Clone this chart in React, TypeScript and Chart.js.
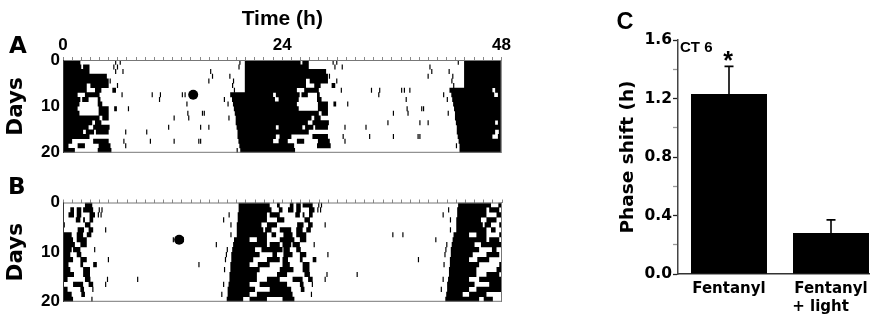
import React, { useEffect, useRef } from "react";
import { Chart, registerables } from "chart.js";
Chart.register(...registerables);
Chart.defaults.color = "#000";

const SANS = "'Liberation Sans', Arial, sans-serif";
const WIDE = "'DejaVu Sans', sans-serif";

// ---------- actogram axes ----------
const hourLabels = [0, 24, 48];
const dayLabels = [0, 10, 20];
const rowsShown = 20;

// ---------- Panel A: activity bouts per day, [start, end] in hours of the day ----------
const boutsA: number[][][] = [
  [[0, 1.9], [19.9, 24]],
  [[0, 2.0], [2.2, 2.9], [19.9, 24]],
  [[0, 2.9], [19.9, 24]],
  [[0, 4.8], [19.9, 24]],
  [[0, 5.0], [19.9, 24]],
  [[0, 2.6], [3.0, 5.0], [19.9, 24]],
  [[0, 2.6], [3.5, 4.2], [5.4, 5.8], [19.9, 24]],
  [[0, 1.6], [2.4, 4.0], [18.3, 23.0], [23.3, 24]],
  [[0, 1.9], [2.1, 2.8], [3.8, 4.1], [18.5, 23.2], [23.6, 24]],
  [[0, 1.8], [3.8, 4.3], [18.6, 24]],
  [[0, 1.6], [3.9, 5.0], [5.6, 5.9], [18.7, 24]],
  [[0, 1.8], [3.9, 5.0], [18.8, 24]],
  [[0, 4.0], [4.3, 5.0], [18.9, 24]],
  [[0, 3.2], [3.5, 4.2], [18.9, 24]],
  [[0, 2.8], [3.3, 5.1], [19.0, 23.3], [23.6, 24]],
  [[0, 2.2], [2.5, 3.4], [3.6, 5.0], [19.1, 24]],
  [[0, 2.9], [19.1, 23.3], [23.7, 24]],
  [[0, 1.0], [3.3, 5.0], [19.2, 23.0], [23.6, 24]],
  [[0, 0.6], [1.6, 2.4], [3.9, 5.2], [19.3, 24]],
  [[0, 1.3], [3.8, 5.3], [19.4, 24]],
  [[0, 1.4], [19.4, 24]],
];
// isolated activity counts [day, hour]
const countsA: number[][] = [
  [0, 5.7], [0, 6.2], [0, 19.3], [1, 5.5], [1, 5.9], [1, 19.2], [2, 5.7], [2, 6.5], [2, 16.1],
  [3, 16.3], [3, 18.2], [4, 5.1], [4, 15.9], [4, 18.6], [5, 5.9], [5, 18.5], [6, 18.7],
  [7, 6.4], [7, 9.7], [7, 10.6], [7, 13.0], [7, 13.3], [7, 13.9], [8, 10.5], [8, 17.6],
  [9, 13.5], [9, 18.0], [10, 7.1], [11, 13.6], [11, 15.2], [11, 15.4], [12, 12.1], [12, 13.7],
  [12, 18.1], [14, 11.5], [14, 15.0], [14, 15.9], [15, 6.8], [15, 9.1], [17, 6.6], [17, 9.5],
  [17, 12.1], [17, 14.8], [17, 15.0], [18, 6.8], [19, 19.0],
];
// fentanyl injection [day, hour]
const pulseA: number[][] = [[7, 14.25]];

// ---------- Panel B ----------
const boutsB: number[][][] = [
  [[2.4, 3.2], [19.2, 22.6], [23.4, 23.7]],
  [[0.8, 1.2], [1.5, 2.0], [2.2, 3.3], [19.2, 22.8], [23.6, 24]],
  [[0.6, 1.2], [1.5, 2.0], [2.9, 3.5], [19.1, 22.3], [22.6, 23.7]],
  [[1.4, 1.9], [2.2, 2.4], [2.9, 3.3], [19.1, 22.3], [23.4, 24]],
  [[0, 0.2], [2.4, 3.0], [19.0, 21.7], [22.3, 23.4]],
  [[1.6, 2.3], [2.8, 3.3], [19.0, 21.9], [22.1, 22.8], [23.7, 24]],
  [[0, 0.95], [1.5, 2.2], [2.6, 3.1], [19.0, 22.3], [22.8, 23.3]],
  [[0.1, 1.1], [1.5, 2.6], [18.7, 20.4], [21.2, 22.3], [23.7, 24]],
  [[0, 1.3], [1.9, 2.6], [18.6, 22.3], [22.6, 23.7]],
  [[0, 0.95], [1.1, 1.9], [18.5, 21.0], [21.7, 24]],
  [[0.1, 0.8], [1.5, 2.0], [18.4, 21.5], [22.9, 23.4]],
  [[0.1, 1.1], [1.9, 2.6], [18.4, 20.8], [22.3, 23.7]],
  [[0, 0.6], [1.9, 2.2], [3.3, 3.7], [18.3, 20.4], [21.3, 22.6]],
  [[0, 0.8], [2.2, 2.95], [18.3, 21.5], [23.7, 24]],
  [[0, 1.2], [2.2, 2.95], [18.2, 21.2], [23.4, 24]],
  [[0, 0.5], [2.4, 3.0], [18.2, 21.2], [22.3, 23.7]],
  [[1.1, 2.2], [2.8, 3.3], [18.1, 20.4], [21.5, 24]],
  [[0, 0.5], [1.9, 2.3], [18.0, 21.0], [22.6, 24]],
  [[0, 0.95], [2.0, 2.4], [18.0, 20.4], [21.2, 24]],
  [[0, 1.1], [17.9, 19.7], [20.4, 22.3]],
  [[0, 1.3], [17.8, 21.5], [22.0, 23.0]],
];
const countsB: number[][] = [
  [1, 3.9], [1, 4.2], [2, 3.8], [2, 4.1], [2, 18.1], [3, 17.5], [4, 18.3], [5, 4.6], [6, 18.3],
  [7, 12.0], [7, 13.1], [8, 16.7], [9, 3.4], [9, 17.9], [10, 17.8], [11, 4.9], [11, 17.7],
  [12, 14.8], [13, 17.6], [15, 4.8], [15, 8.1], [16, 4.6], [16, 17.5], [17, 3.2], [18, 17.3],
  [19, 3.1],
];
const pulseB: number[][] = [[7, 12.7]];

// ---------- Panel C ----------
const groups = ["Fentanyl", "Fentanyl + light"];
const groupLines = [["Fentanyl"], ["Fentanyl", "+ light    "]];
const phaseShift = [1.23, 0.28];
const phaseShiftSem = [0.19, 0.09];
const significant = [true, false];
const shiftLabels = [0, 0.4, 0.8, 1.2, 1.6];
const conditionNote = "CT 6";

// ---------- helpers ----------
type Pt = { x: number; y: number | null };
const COUNT_WIDTH = 0.13;

function doublePlot(bouts: number[][][]): Pt[] {
  const pts: Pt[] = [];
  for (let r = 0; r < rowsShown; r++) {
    const halves: [number, number][] = [[r, 0], [r + 1, 24]];
    for (const [day, shift] of halves) {
      for (const [s, e] of bouts[day] || []) {
        pts.push({ x: s + shift, y: r + 0.5 }, { x: e + shift, y: r + 0.5 }, { x: e + shift, y: null });
      }
    }
  }
  return pts;
}

function doublePlotCounts(counts: number[][]): Pt[] {
  const pts: Pt[] = [];
  for (const [day, h] of counts) {
    const rows: [number, number][] = [[day, 0], [day - 1, 24]];
    for (const [r, shift] of rows) {
      if (r < 0 || r >= rowsShown) continue;
      pts.push({ x: h + shift, y: r + 0.5 }, { x: h + shift + COUNT_WIDTH, y: r + 0.5 }, { x: h + shift, y: null });
    }
  }
  return pts;
}

const framePlugin = {
  id: "frame",
  afterDatasetsDraw(chart: any) {
    const { ctx, chartArea } = chart;
    const { left, top, right, bottom } = chartArea;
    ctx.save();
    ctx.lineWidth = 1;
    ctx.strokeStyle = "#777";
    ctx.beginPath();
    ctx.moveTo(left, top + 0.5);
    ctx.lineTo(right, top + 0.5);
    ctx.moveTo(right - 0.5, top);
    ctx.lineTo(right - 0.5, bottom);
    ctx.moveTo(left, bottom - 0.5);
    ctx.lineTo(right, bottom - 0.5);
    ctx.stroke();
    ctx.strokeStyle = "#333";
    ctx.beginPath();
    ctx.moveTo(left + 0.5, top);
    ctx.lineTo(left + 0.5, bottom);
    ctx.stroke();
    ctx.restore();
  },
};

function actogramConfig(
  bouts: number[][][],
  counts: number[][],
  pulse: number[][],
  o: { xAxisHeight: number; showHours: boolean; title: string; padBottom: number; rowWidth: number }
): any {
  return {
    type: "scatter",
    data: {
      datasets: [
        {
          data: pulse.map(([d, h]) => ({ x: h, y: d + 0.5 })),
          pointRadius: 5,
          pointBackgroundColor: "#000",
          pointBorderWidth: 0,
          showLine: false,
        },
        {
          data: doublePlot(bouts),
          showLine: true,
          stepped: true,
          spanGaps: false,
          borderColor: "#000",
          borderWidth: o.rowWidth,
          borderCapStyle: "butt",
          pointRadius: 0,
        },
        {
          data: doublePlotCounts(counts),
          showLine: true,
          stepped: true,
          spanGaps: false,
          borderColor: "#000",
          borderWidth: o.rowWidth,
          borderCapStyle: "butt",
          pointRadius: 0,
        },
      ],
    },
    options: {
      animation: false,
      responsive: false,
      events: [],
      plugins: { legend: { display: false }, tooltip: { enabled: false } },
      layout: { padding: { left: 0, right: 10, top: 0, bottom: o.padBottom } },
      scales: {
        x: {
          type: "linear",
          position: "top",
          min: 0,
          max: 48,
          ticks: {
            stepSize: 1,
            autoSkip: false,
            maxRotation: 0,
            padding: 1,
            font: { family: SANS, weight: "bold", size: 17 },
            color: "#000",
            callback: (v: number) => (o.showHours && hourLabels.includes(v) ? String(v) : ""),
          },
          grid: { drawOnChartArea: false, tickLength: 3, color: "#888", lineWidth: 1 },
          border: { display: false },
          title: {
            display: !!o.title,
            text: o.title,
            font: { family: SANS, weight: "bold", size: 21 },
            color: "#000",
            padding: { top: 7, bottom: 0 },
          },
          afterFit: (s: any) => {
            s.height = o.xAxisHeight;
          },
        },
        y: {
          type: "linear",
          reverse: true,
          min: 0,
          max: rowsShown,
          ticks: {
            stepSize: 10,
            padding: 3,
            font: { family: SANS, weight: "bold", size: 17 },
            color: "#000",
            callback: (v: number) => (dayLabels.includes(v) ? String(v) : ""),
          },
          grid: { display: false, drawTicks: false },
          border: { display: false },
          title: {
            display: true,
            text: "Days",
            font: { family: WIDE, weight: "bold", size: 21.5 },
            color: "#000",
            padding: { top: 4, bottom: 0 },
          },
          afterFit: (s: any) => {
            s.width = 63;
          },
        },
      },
    },
    plugins: [framePlugin],
  };
}

const errorBarPlugin = {
  id: "errorBars",
  afterDatasetsDraw(chart: any) {
    const { ctx, chartArea } = chart;
    const meta = chart.getDatasetMeta(0);
    const yScale = chart.scales.y;
    ctx.save();
    ctx.strokeStyle = "#000";
    ctx.fillStyle = "#000";
    ctx.lineWidth = 1.6;
    meta.data.forEach((bar: any, i: number) => {
      const yBase = yScale.getPixelForValue(phaseShift[i]);
      const yTop = yScale.getPixelForValue(phaseShift[i] + phaseShiftSem[i]);
      ctx.beginPath();
      ctx.moveTo(bar.x, yBase);
      ctx.lineTo(bar.x, yTop);
      ctx.moveTo(bar.x - 4.5, yTop);
      ctx.lineTo(bar.x + 4.5, yTop);
      ctx.stroke();
      if (significant[i]) {
        ctx.font = `bold 25px ${SANS}`;
        ctx.textAlign = "center";
        ctx.textBaseline = "alphabetic";
        ctx.fillText("*", bar.x - 1, yTop + 3);
      }
    });
    ctx.font = `bold 15px ${SANS}`;
    ctx.textAlign = "left";
    ctx.textBaseline = "alphabetic";
    ctx.fillText(conditionNote, chartArea.left + 2, chartArea.top + 12);
    ctx.restore();
  },
};

function barConfig(): any {
  return {
    type: "bar",
    data: {
      labels: groupLines,
      datasets: [
        {
          label: "Phase shift",
          data: phaseShift,
          backgroundColor: "#000",
          borderWidth: 0,
          barPercentage: 0.745,
          categoryPercentage: 1,
        },
      ],
    },
    options: {
      animation: false,
      responsive: false,
      events: [],
      plugins: { legend: { display: false }, tooltip: { enabled: false } },
      layout: { padding: { left: 0, right: 8, top: 40, bottom: 0 } },
      scales: {
        x: {
          type: "category",
          grid: { display: false, drawTicks: false },
          border: { display: true, color: "#333", width: 1.5 },
          ticks: {
            padding: 6,
            maxRotation: 0,
            autoSkip: false,
            font: { family: WIDE, weight: "bold", size: 15, lineHeight: 1.2 },
            color: "#000",
          },
          afterFit: (s: any) => {
            s.height = 46;
          },
        },
        y: {
          type: "linear",
          min: 0,
          max: 1.6,
          ticks: {
            stepSize: 0.2,
            padding: 1,
            font: { family: WIDE, weight: "bold", size: 15.5 },
            color: "#000",
            callback: (v: number) => {
              const hit = shiftLabels.find((l) => Math.abs(l - v) < 1e-6);
              return hit === undefined ? "" : hit.toFixed(1);
            },
          },
          grid: {
            drawOnChartArea: false,
            tickLength: 5,
            tickColor: (c: any) =>
              c.tick && shiftLabels.some((l) => Math.abs(l - c.tick.value) < 1e-6) ? "#222" : "#999",
            tickWidth: 1.3,
          },
          border: { display: true, color: "#444", width: 1.5 },
          title: {
            display: true,
            text: "Phase shift (h)",
            font: { family: WIDE, weight: "bold", size: 18.5 },
            color: "#000",
            padding: { top: 17, bottom: 0 },
          },
          afterFit: (s: any) => {
            s.width = 78;
          },
        },
      },
    },
    plugins: [errorBarPlugin],
  };
}

function ChartCanvas({ make, left, top, width, height }: { make: () => any; left: number; top: number; width: number; height: number }) {
  const ref = useRef<HTMLCanvasElement | null>(null);
  useEffect(() => {
    if (!ref.current) return;
    const chart = new Chart(ref.current, make());
    return () => chart.destroy();
  }, []);
  return (
    <canvas
      ref={ref}
      width={width}
      height={height}
      style={{ position: "absolute", left, top, width, height, display: "block" }}
    />
  );
}

function Letter({ text, left, top, size, family }: { text: string; left: number; top: number; size: number; family: string }) {
  return (
    <div
      style={{
        position: "absolute",
        left,
        top,
        fontFamily: family,
        fontWeight: "bold",
        fontSize: size,
        lineHeight: 1,
        color: "#000",
      }}
    >
      {text}
    </div>
  );
}

export default function App() {
  return (
    <div
      style={{ position: "absolute", left: 0, top: 0, width: 870, height: 320, overflow: "hidden", background: "#fff" }}
    >
      <ChartCanvas
        left={0}
        top={0}
        width={512}
        height={166}
        make={() =>
          actogramConfig(boutsA, countsA, pulseA, { xAxisHeight: 60, showHours: true, title: "Time (h)", padBottom: 9, rowWidth: 5 })
        }
      />
      <ChartCanvas
        left={0}
        top={170}
        width={512}
        height={145}
        make={() =>
          actogramConfig(boutsB, countsB, pulseB, { xAxisHeight: 32.5, showHours: false, title: "", padBottom: 11, rowWidth: 5.2 })
        }
      />
      <ChartCanvas left={600} top={0} width={290} height={320} make={barConfig} />
      <Letter text="A" left={9} top={34} size={23} family={WIDE} />
      <Letter text="B" left={8} top={175} size={23} family={WIDE} />
      <Letter text="C" left={616.5} top={10} size={23.5} family={SANS} />
    </div>
  );
}
